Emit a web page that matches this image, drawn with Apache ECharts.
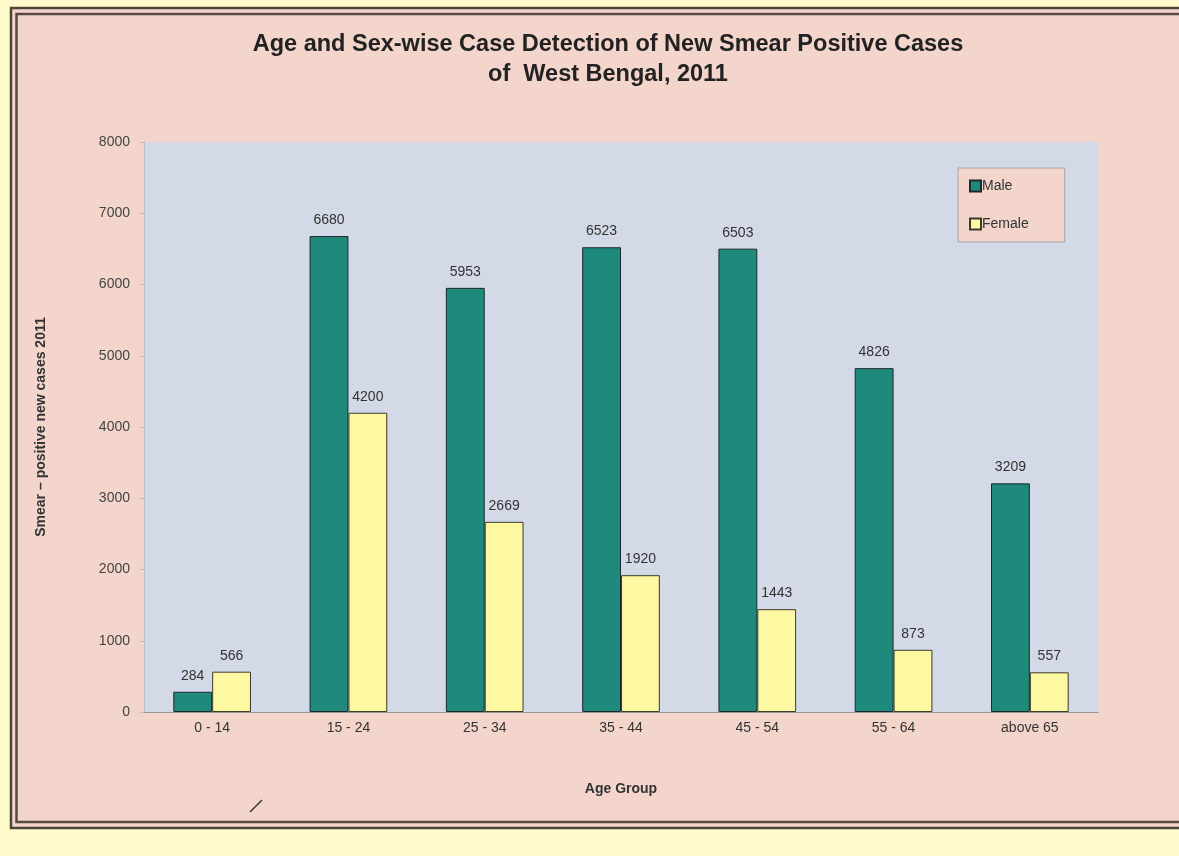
<!DOCTYPE html>
<html>
<head>
<meta charset="utf-8">
<script src="https://cdn.jsdelivr.net/npm/echarts@6/dist/echarts.min.js"></script>
<style>
html,body{margin:0;padding:0;background:#FFF9CC;}
#c{width:1179px;height:856px;}
</style>
</head>
<body>
<div id="c"></div>
<script>
const categories = ['0 - 14', '15 - 24', '25 - 34', '35 - 44', '45 - 54', '55 - 64', 'above 65'];
const maleValues = [284, 6680, 5953, 6523, 6503, 4826, 3209];
const femaleValues = [566, 4200, 2669, 1920, 1443, 873, 557];
const yTicks = [0, 1000, 2000, 3000, 4000, 5000, 6000, 7000, 8000];

const chart = echarts.init(document.getElementById('c'));
const font = 'Liberation Sans, Arial, sans-serif';
chart.setOption({
  backgroundColor: '#FFF9CC',
  animation: false,
  graphic: [
    {type: 'rect', z: -10, shape: {x: 11, y: 8, width: 1200, height: 820}, style: {fill: '#F3D5CB', stroke: '#4E4438', lineWidth: 2.5}},
    {type: 'rect', z: -9, shape: {x: 16.5, y: 14, width: 1200, height: 808}, style: {fill: '#F3D5CB', stroke: '#5A4A44', lineWidth: 2.5}},
    {type: 'line', shape: {x1: 250, y1: 812, x2: 262, y2: 800}, style: {stroke: '#333', lineWidth: 1.5}}
  ],
  title: {
    text: 'Age and Sex-wise Case Detection of New Smear Positive Cases\nof  West Bengal, 2011',
    left: 603, top: 25, textAlign: 'center',
    textStyle: {fontFamily: font, fontWeight: 'bold', fontSize: 23.5, lineHeight: 30, color: '#222'}
  },
  legend: {
    orient: 'vertical', left: 958, top: 168,
    padding: [11, 36, 11, 11],
    itemGap: 24, itemWidth: 11, itemHeight: 11,
    icon: 'rect',
    backgroundColor: '#F3D5CB', borderColor: '#A9A2A6', borderWidth: 1,
    textStyle: {fontFamily: font, fontSize: 14, color: '#333', padding: [0, 0, 0, -4]},
    data: ['Male', 'Female']
  },
  grid: {left: 144, right: 81, top: 142, bottom: 144, show: true, backgroundColor: '#D4D9E7', borderWidth: 0},
  xAxis: {
    type: 'category', data: categories,
    name: 'Age Group', nameLocation: 'middle', nameGap: 70,
    nameTextStyle: {fontFamily: font, fontWeight: 'bold', fontSize: 14, color: '#333'},
    axisLine: {lineStyle: {color: '#999', width: 1}},
    axisTick: {show: false},
    axisLabel: {fontFamily: font, fontSize: 14, color: '#333', margin: 9}
  },
  yAxis: {
    type: 'value', min: 0, max: 8000, interval: 1000,
    name: 'Smear \u2013 positive new cases 2011', nameLocation: 'middle', nameGap: 96,
    nameTextStyle: {fontFamily: font, fontWeight: 'bold', fontSize: 14, color: '#333'},
    axisLine: {show: true, lineStyle: {color: '#BFBFC8'}},
    axisTick: {show: true, length: 4, lineStyle: {color: '#BBB'}},
    splitLine: {show: false},
    axisLabel: {fontFamily: font, fontSize: 14, color: '#444', margin: 14,
      formatter: v => yTicks.includes(v) ? String(v) : ''}
  },
  series: [
    {
      name: 'Male', type: 'bar', data: maleValues,
      barGap: '0%', barCategoryGap: '43%',
      itemStyle: {color: '#1F8A7C', borderColor: '#1A2A28', borderWidth: 1},
      label: {show: true, position: 'top', distance: 9, fontFamily: font, fontSize: 14, color: '#333'}
    },
    {
      name: 'Female', type: 'bar', data: femaleValues,
      itemStyle: {color: '#FDF9A2', borderColor: '#3A3A2A', borderWidth: 1},
      label: {show: true, position: 'top', distance: 9, fontFamily: font, fontSize: 14, color: '#333'}
    }
  ]
});
</script>
</body>
</html>
